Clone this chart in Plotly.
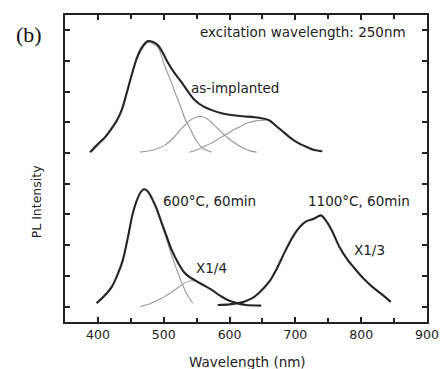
import plotly.graph_objects as go

# ---- data (wavelength nm, PL intensity in axis-tick units) ----
asimp_x = [388, 400, 411, 420, 429, 437, 444, 452, 459, 467, 476, 484, 491, 499, 506, 516, 527, 537, 547, 560, 573, 588, 603, 620, 638, 650, 660, 670, 680, 691, 704, 717, 729, 741]
asimp_y = [5.03, 5.3, 5.52, 5.78, 6.07, 6.45, 6.98, 7.6, 8.09, 8.45, 8.65, 8.62, 8.52, 8.25, 7.96, 7.62, 7.31, 7.0, 6.73, 6.52, 6.4, 6.3, 6.24, 6.2, 6.17, 6.13, 6.07, 5.9, 5.72, 5.52, 5.33, 5.2, 5.1, 5.06]

asimp_c1_x = [390, 411, 429, 444, 459, 476, 491, 501, 509, 517, 525, 532, 540, 547, 559, 573]
asimp_c1_y = [5.03, 5.5, 6.05, 6.95, 8.05, 8.6, 8.45, 7.86, 7.45, 6.98, 6.55, 6.13, 5.8, 5.5, 5.16, 5.03]

asimp_c2_x = [464, 484, 502, 515, 527, 541, 555, 566, 577, 587, 597, 608, 618, 630, 641]
asimp_c2_y = [5.03, 5.1, 5.26, 5.5, 5.8, 6.08, 6.2, 6.12, 5.9, 5.7, 5.5, 5.33, 5.2, 5.08, 5.03]

asimp_c3_x = [539, 550, 560, 570, 580, 590, 600, 613, 626, 640, 656]
asimp_c3_y = [5.03, 5.1, 5.2, 5.3, 5.42, 5.55, 5.68, 5.83, 5.97, 6.05, 6.07]

t600_x = [398, 410, 421, 430, 438, 446, 453, 459, 464, 470, 476, 481, 489, 497, 505, 512, 522, 532, 540, 547, 560, 573, 585, 597, 611, 625, 648]
t600_y = [0.11, 0.35, 0.64, 1.05, 1.52, 2.3, 3.04, 3.45, 3.69, 3.82, 3.75, 3.57, 3.2, 2.72, 2.25, 1.84, 1.42, 1.09, 0.95, 0.86, 0.7, 0.54, 0.36, 0.21, 0.11, 0.05, 0.03]

c600_1_x = [398, 421, 438, 453, 464, 470, 481, 494, 506, 513, 520, 526, 532, 538, 544]
c600_1_y = [0.11, 0.64, 1.52, 3.04, 3.69, 3.82, 3.57, 2.85, 2.07, 1.6, 1.19, 0.85, 0.54, 0.3, 0.11]

c600_2_x = [464, 478, 491, 502, 512, 522, 532, 542, 552, 562, 573, 585, 597]
c600_2_y = [0.0, 0.08, 0.21, 0.33, 0.47, 0.62, 0.77, 0.84, 0.8, 0.68, 0.54, 0.36, 0.21]

t1100_x = [582, 600, 615, 625, 635, 645, 660, 671, 684, 696, 707, 717, 728, 739, 748, 756, 767, 780, 792, 805, 817, 830, 845]
t1100_y = [0.05, 0.07, 0.12, 0.18, 0.28, 0.45, 0.8, 1.2, 1.78, 2.27, 2.6, 2.78, 2.86, 2.97, 2.75, 2.45, 1.94, 1.5, 1.19, 0.88, 0.64, 0.42, 0.15]

x_ticks = [400, 500, 600, 700, 800, 900]
y_ticks = [0, 1, 2, 3, 4, 5, 6, 7, 8, 9]

MAIN = "#262626"
COMP = "#999999"
FONT = "Liberation Sans, Arial, sans-serif"
WIDE = "DejaVu Sans, Liberation Sans, sans-serif"

fig = go.Figure()

def add(x, y, color, width):
    fig.add_trace(go.Scatter(x=x, y=y, mode="lines",
                             line=dict(color=color, width=width, shape="spline", smoothing=0.8),
                             showlegend=False, hoverinfo="skip"))

for cx, cy in [(asimp_c1_x, asimp_c1_y), (asimp_c2_x, asimp_c2_y), (asimp_c3_x, asimp_c3_y),
               (c600_1_x, c600_1_y), (c600_2_x, c600_2_y)]:
    add(cx, cy, COMP, 1.1)

add(asimp_x, asimp_y, MAIN, 2.1)
add(t600_x, t600_y, MAIN, 2.1)
add(t1100_x, t1100_y, MAIN, 2.1)

texts = [
    ("excitation wavelength: 250nm", 711, 8.94, 13.5),
    ("as-implanted", 609, 7.12, 13.5),
    ("600°C, 60min", 569, 3.43, 13.5),
    ("1100°C, 60min", 797, 3.43, 13.5),
    ("X1/4", 573, 1.25, 13.5),
    ("X1/3", 812, 1.84, 13.5),
]
for t, x, y, s in texts:
    fig.add_annotation(text=t, x=x, y=y, xref="x", yref="y", showarrow=False,
                       font=dict(family=WIDE, size=s, color="#222"),
                       xanchor="center", yanchor="middle")

fig.add_annotation(text="(b)", x=-0.099, y=0.938, xref="paper", yref="paper",
                   showarrow=False, font=dict(family="Liberation Serif, Times New Roman, serif", size=22, color="#111"),
                   xanchor="center", yanchor="middle")
fig.add_annotation(text="PL Intensity", x=-0.08, y=0.39, xref="paper", yref="paper",
                   showarrow=False, textangle=-90,
                   font=dict(family=WIDE, size=12.5, color="#222"),
                   xanchor="center", yanchor="middle")
fig.add_annotation(text="Wavelength (nm)", x=0.503, y=-0.13, xref="paper", yref="paper",
                   showarrow=False, font=dict(family=WIDE, size=13.5, color="#222"),
                   xanchor="center", yanchor="middle")

fig.update_layout(
    width=441, height=369,
    margin=dict(l=65, r=14, t=15, b=47),
    plot_bgcolor="white", paper_bgcolor="white",
    font=dict(family=FONT, color="#222"),
)
fig.update_xaxes(range=[350, 900], tickvals=x_ticks, ticks="inside", ticklen=5, tickwidth=1.5,
                 tickcolor="#222", showline=True, linecolor="#222", linewidth=2, mirror="ticks",
                 showgrid=False, zeroline=False, automargin=False,
                 tickfont=dict(family=WIDE, size=12.5, color="#222"),
                 minor=dict(tickvals=[450, 550, 650, 750, 850], ticks="inside", ticklen=4,
                            tickcolor="#222", tickwidth=1.5, showgrid=False))
fig.update_yaxes(range=[-0.505, 9.5], tickvals=y_ticks, ticks="inside", ticklen=5, tickwidth=1.5,
                 tickcolor="#222", showline=True, linecolor="#222", linewidth=2, mirror="ticks",
                 showgrid=False, zeroline=False, showticklabels=False, automargin=False)

fig.write_html("out.html")
